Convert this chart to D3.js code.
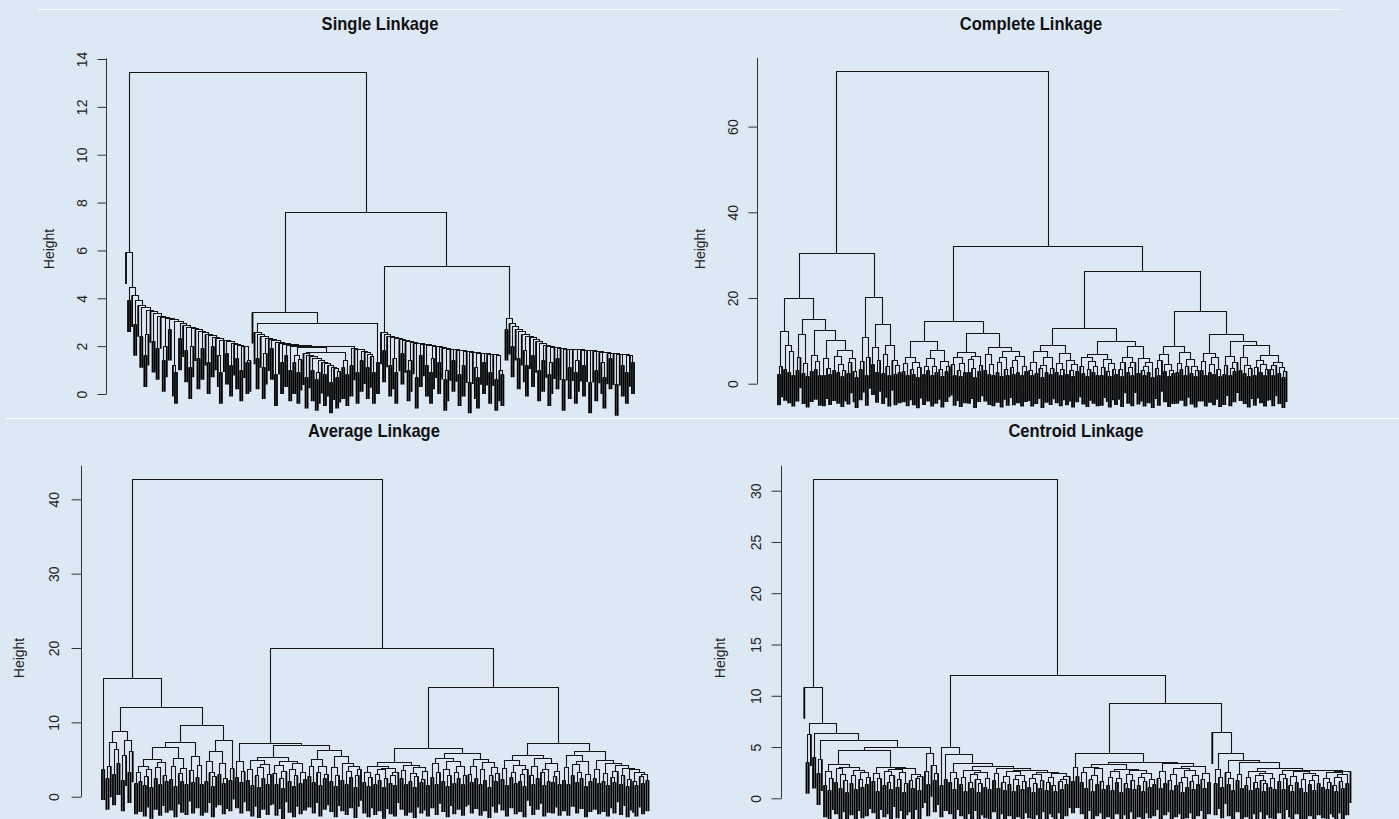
<!DOCTYPE html>
<html><head><meta charset="utf-8">
<script src="https://cdn.jsdelivr.net/npm/d3@7"></script>
<style>
html,body{margin:0;padding:0;background:#dde8f5;}
svg{display:block;}
text{font-family:"Liberation Sans",Arial,Helvetica,sans-serif;}
</style></head><body>
<svg id="chart" width="1399" height="819"></svg>
<script>
// ---------------- DATA ----------------
const titles = ["Single Linkage", "Complete Linkage", "Average Linkage", "Centroid Linkage"];
const yLabel = "Height";
const singleTicks = [0, 2, 4, 6, 8, 10, 12, 14];
const completeTicks = [0, 20, 40, 60];
const averageTicks = [0, 10, 20, 30, 40];
const centroidTicks = [0, 5, 10, 15, 20, 25, 30];

// Merge height between each pair of neighbouring leaves (in leaf order).
const singleGaps = [
  5.9, 3.9, 4.45,
  4.1, 2.9, 3.9, 3.7, 2.4, 3.6, 1.6, 2.5, 3.5, 3.45,
  2.2, 3.35, 1.9, 3.25, 3.2, 1.4, 2.0, 3.15, 2.7, 3.1,
  1.2, 0.9, 3.02, 2.3, 2.95, 2.85, 1.8, 2.8, 1.1, 2.0,
  2.72, 2.68, 1.5, 2.62, 1.9, 2.55, 2.5, 1.3, 2.45, 2.0,
  2.38, 2.3, 1.6, 0.9, 2.25, 2.22, 1.7, 2.18, 1.2, 2.12,
  2.08, 1.5, 2.03, 1.0, 1.99, 1.97, 1.3, 1.4,
  13.45, 3.42,
  2.55, 1.5, 2.48, 2.4, 1.1, 1.7, 2.33, 2.27, 1.9, 2.22,
  0.8, 2.17, 2.12, 1.3, 2.08, 1.6, 2.04, 1.0, 2.0,
  1.3, 1.6, 0.9, 1.45, 1.93,
  1.68, 0.7, 1.62, 1.55, 1.0, 1.48, 0.6, 0.9, 1.4, 1.33, 0.8, 1.27, 1.2, 0.5, 1.12, 1.05, 0.7, 0.95,
  1.75, 1.1, 1.4, 0.8, 1.97,
  1.2, 1.9, 1.88, 0.9, 1.84, 1.4, 1.78, 1.72, 1.1, 1.65, 1.57, 0.9,
  2.94, 1.3, 7.59,
  2.55, 1.8, 2.48, 2.42, 1.2, 2.36, 1.5, 0.9, 2.3, 2.26,
  1.7, 2.22, 2.19, 1.0, 1.4, 2.16, 2.13, 0.7, 2.1, 1.6,
  2.08, 2.05, 1.2, 2.02, 0.9, 1.5, 2.0, 1.97, 1.3, 1.94,
  1.91, 0.6, 1.0, 1.88, 1.86, 1.4, 1.84, 1.82, 0.8, 1.8,
  1.2, 1.78, 1.76, 0.5, 1.74, 1.72, 1.1, 0.7, 1.71, 1.69,
  1.3, 1.68, 1.66, 0.9, 1.65, 1.64, 0.6, 1.62, 1.0, 0.8,
  5.31,
  2.7, 3.16, 2.96, 2.0, 2.81, 2.7, 1.5, 2.6, 2.5, 1.8,
  1.2, 2.42, 2.35, 1.6, 2.27, 2.19, 1.0, 2.1, 1.4, 2.04,
  1.98, 0.8, 1.3, 1.95, 1.93, 1.5, 1.91, 1.89, 0.6, 1.88,
  1.87, 1.1, 1.86, 1.85, 0.9, 1.4, 1.84, 1.83, 1.2, 1.82,
  1.81, 0.5, 1.8, 1.79, 1.0, 1.77, 1.75, 1.3, 0.7, 1.73,
  1.71, 1.5, 1.7, 1.68, 0.4, 1.67, 1.66, 1.2, 1.64, 0.9,
  1.62, 1.61, 1.3
];

const completeGaps = [
  2.1, 4.0, 12.1, 3.2, 9.0, 2.6, 7.4, 1.8, 19.9,
  3.0, 6.1, 11.4, 2.4, 4.8, 1.6, 15.0,
  2.9, 6.6, 3.4, 5.2, 2.0, 12.4,
  1.9, 5.9, 3.6, 2.2, 10.0,
  3.1, 6.4, 2.5, 4.4, 1.7, 3.0, 7.7,
  2.3, 4.9, 5.8, 2.8, 1.5, 30.5,
  3.3, 5.1, 10.8, 2.0, 6.0, 20.2,
  4.5, 8.4, 2.7, 5.3, 13.9,
  2.4, 6.8, 3.9, 1.8, 9.0,
  5.5, 2.1, 4.2, 2.6, 72.9,
  2.8, 4.6, 1.9, 6.2, 3.3, 2.1, 5.0, 1.4, 3.7, 9.8,
  2.2, 4.1, 3.0, 5.8, 1.8, 3.9, 2.5, 7.7,
  3.4, 1.6, 5.2, 2.9, 4.0, 14.5,
  4.4, 2.0, 6.0, 3.1, 1.7, 4.8, 2.6, 7.3,
  2.5, 5.6, 3.6, 1.5, 6.4, 2.9, 4.2, 11.8,
  3.0, 6.9, 2.2, 4.5, 1.9, 8.5,
  2.7, 4.9, 1.6, 6.1, 3.4, 2.0, 7.5,
  3.8, 2.1, 5.4, 2.6, 6.3, 1.8, 4.0, 2.9, 32.1,
  3.1, 1.8, 5.0, 2.4, 7.4, 3.6, 1.5, 4.3, 2.7, 6.0, 2.2, 3.5, 9.0,
  2.6, 4.7, 1.9, 3.3, 7.0, 2.1, 5.5, 3.0, 1.6, 4.4, 2.8, 12.9,
  4.0, 2.3, 6.0, 1.7, 3.2, 5.1, 2.5, 3.9, 1.9, 6.9,
  2.0, 3.8, 5.6, 2.9, 1.6, 4.6, 3.3, 2.2, 9.8,
  3.4, 1.7, 4.9, 6.2, 2.5, 3.7, 1.9, 5.0, 8.6,
  2.3, 5.8, 3.0, 1.8, 4.1, 2.6, 4.9, 1.5, 26.2,
  3.6, 2.0, 5.3, 6.7, 2.8, 4.4, 1.7, 3.1, 2.4, 8.7,
  2.5, 4.8, 3.2, 7.2, 1.9, 3.9, 5.7, 2.3, 4.1, 1.6, 3.0, 16.8,
  3.0, 5.2, 1.8, 7.0, 2.7, 4.5, 2.1, 6.1, 3.4, 1.7, 11.4,
  2.2, 4.3, 6.4, 1.9, 3.5, 2.8, 5.0, 9.8,
  3.1, 6.0, 2.4, 4.2, 1.6, 3.6, 9.0,
  2.0, 3.7, 5.4, 2.6, 4.5, 1.8, 3.2, 6.6,
  3.3, 1.9, 4.2, 5.0, 2.4, 3.8, 1.5, 2.9
];

const averageGaps = [
  3.7, 15.9,
  2.4, 4.1, 7.3, 3.0, 6.3, 4.4, 8.75, 2.2, 5.6, 7.6, 3.3, 6.1, 12.0,
  1.8, 3.2, 2.1, 4.1, 1.5, 2.7, 3.6, 1.2, 5.0, 2.4, 3.9, 1.6, 4.6, 2.9, 2.0, 6.65,
  2.3, 4.0, 1.4, 5.2, 3.1, 2.0, 3.8, 1.7, 7.3,
  3.5, 1.9, 5.4, 2.6, 4.2, 1.6, 9.55,
  2.0, 4.8, 3.3, 1.4, 2.7, 6.05,
  3.0, 4.5, 1.8, 2.5, 7.6,
  2.2, 3.8, 42.7,
  2.6, 4.7, 1.9, 3.4, 7.2,
  2.2, 3.6, 1.5, 4.9, 2.8, 1.3, 3.9, 2.4, 4.3, 1.7, 3.0, 5.3,
  3.1, 1.6, 4.2, 2.5, 1.1, 3.4, 4.8, 2.0, 3.7, 1.4, 2.8, 4.4, 1.8, 3.2, 2.3, 6.9,
  2.7, 4.0, 1.9, 5.0, 3.3, 1.5, 4.1, 2.4, 3.0, 6.2,
  2.1, 3.9, 1.4, 2.9, 5.4, 2.2, 4.5, 1.7, 3.4, 2.6, 4.0, 1.3, 2.8, 3.6, 20.0,
  1.9, 3.2, 1.4, 2.6, 4.0, 1.7, 3.0, 2.2, 3.6, 1.2, 2.5, 3.8, 1.8, 2.9, 1.5, 3.3, 4.6,
  2.4, 3.5, 1.6, 4.2, 2.0, 3.1, 1.3, 2.7, 3.9, 1.9, 2.3, 3.4, 1.5, 6.5,
  2.6, 4.4, 1.7, 3.2, 5.2, 2.1, 3.7, 1.4, 2.9, 4.7, 1.8, 3.3, 2.4, 4.0, 1.6, 2.8, 5.75,
  3.0, 1.9, 4.1, 2.5, 5.0, 1.6, 3.6, 2.2, 4.6, 1.3, 2.8, 3.9, 2.0, 3.1, 14.7,
  2.3, 3.8, 1.5, 4.9, 2.6, 3.3, 1.8, 4.2, 2.1, 3.0, 1.4, 3.6, 5.5,
  2.9, 1.7, 4.0, 2.4, 5.1, 3.2, 1.5, 3.7, 2.0, 4.5, 1.9, 2.7, 3.4, 1.6, 7.2,
  2.2, 3.9, 1.6, 5.6, 2.8, 4.3, 1.9, 3.2, 2.5, 4.8, 1.4, 3.0, 2.1, 6.05,
  2.4, 3.6, 1.8, 4.9, 2.1, 3.1, 1.5, 4.5, 2.6, 1.9, 3.4, 4.2, 1.7, 2.9, 3.8, 1.4, 2.3, 3.6, 2.0, 1.5, 3.3, 2.7, 1.8, 3.0, 2.2
];

const centroidGaps = [
  10.8, 3.5, 6.2, 7.3, 4.0, 6.3, 2.4, 3.75, 5.6,
  1.2, 2.6, 0.8, 1.9, 3.3, 1.5, 2.9, 1.0, 2.3, 1.7, 0.6, 3.0, 1.4, 2.2, 0.9, 2.7, 1.8, 1.1, 2.5, 1.3, 2.0, 4.65,
  1.6, 2.4, 0.7, 1.9, 3.0, 1.2, 2.6, 1.5, 0.9, 2.2, 2.8, 1.1, 1.8, 2.5, 0.6, 1.4, 2.9, 1.7, 1.0, 2.3, 1.9, 0.8, 2.1, 5.0,
  2.6, 1.3, 4.4, 3.2, 1.7, 2.4, 31.1,
  1.2, 5.0, 1.8, 4.3, 1.5, 2.5, 0.9, 1.9, 3.35,
  1.3, 2.0, 0.7, 2.7, 1.5, 1.0, 2.3, 1.8, 0.6, 1.4, 2.5, 1.1, 1.9, 0.9, 3.15,
  1.7, 2.4, 1.0, 2.9, 1.5, 0.8, 2.1, 1.3, 2.6, 0.7, 1.8, 1.2, 2.2, 0.9, 1.6, 2.7, 1.1, 1.9, 0.6, 1.4,
  2.3, 1.0, 1.7, 2.5, 0.8, 1.5, 2.0, 1.2, 0.7, 2.4, 1.6, 0.9, 1.8, 1.3, 2.1, 12.0,
  1.6, 3.0, 2.1, 4.4,
  1.5, 2.5, 1.0, 3.0, 1.8, 0.7, 2.2, 1.3, 2.9, 1.6, 0.9, 3.3, 1.2, 2.0, 0.8, 2.6, 1.5, 1.9, 0.6, 2.8,
  1.4, 1.0, 2.3, 1.7, 0.9, 2.7, 1.2, 2.0, 0.7, 1.6, 2.4, 1.1, 1.8, 1.3, 3.5,
  1.9, 1.0, 2.6, 1.4, 3.35, 1.7, 0.8, 2.3, 1.2, 2.9, 1.5, 0.6, 2.0, 1.1, 2.7, 1.6, 0.9, 2.2, 1.3, 3.1,
  1.8, 1.0, 2.4, 1.5, 9.2,
  6.4, 1.4, 2.8, 2.0, 1.1, 4.4, 2.5, 1.3, 1.9, 0.8, 3.7, 1.7, 2.3, 1.0, 3.5,
  1.2, 2.0, 0.8, 2.6, 1.5, 1.0, 2.2, 1.7, 0.7, 1.4, 2.4, 1.1, 1.9, 0.9, 2.9,
  1.6, 2.3, 0.9, 1.9, 2.75, 1.2, 0.7, 2.1, 1.5, 2.6, 1.0, 1.8, 0.6, 2.4, 1.3, 1.7, 0.8, 2.2, 1.4, 2.7,
  1.1, 1.9, 0.9, 1.5, 2.5, 1.2, 0.7, 2.0, 1.6, 1.0, 2.3, 1.4, 2.6
];

// ---------------- LAYOUT ----------------
const layouts = [
  {gaps: singleGaps, ticks: singleTicks, title: titles[0],
   leafX: [126, 634], yPix: [394, 59], axisX: 106.7, tickLen: 9, labelOff: 25,
   hx: 49, hy: 249, tx: 380, ty: 29.5},
  {gaps: completeGaps, ticks: completeTicks, title: titles[1],
   leafX: [778, 1286.5], yPix: [383.7, 126.6], axisX: 757.2, tickLen: 9, labelOff: 24,
   hx: 700, hy: 249, tx: 1031, ty: 29.5},
  {gaps: averageGaps, ticks: averageTicks, title: titles[2],
   leafX: [102, 648.5], yPix: [796.7, 499.3], axisX: 81.2, tickLen: 10, labelOff: 27.5,
   hx: 19, hy: 658, tx: 374, ty: 436.5},
  {gaps: centroidGaps, ticks: centroidTicks, title: titles[3],
   leafX: [804.3, 1350.5], yPix: [798.3, 490.7], axisX: 781.6, tickLen: 10, labelOff: 26,
   hx: 720, hy: 658, tx: 1076, ty: 436.5}
];

const svg = d3.select("#chart");
svg.append("rect").attr("width", 1399).attr("height", 819).attr("fill", "#dde8f5");
svg.append("line").attr("x1", 38).attr("x2", 1341).attr("y1", 9.5).attr("y2", 9.5)
  .attr("stroke", "#ffffff").attr("stroke-width", 1);
svg.append("line").attr("x1", 6).attr("x2", 1399).attr("y1", 418.5).attr("y2", 418.5)
  .attr("stroke", "#ffffff").attr("stroke-width", 1);

const snap = v => Math.round(v - 0.5) + 0.5;

function buildTree(gaps, xs) {
  const n = gaps.length + 1;
  function rec(lo, hi) {
    if (lo === hi) return {leaf: true, i: lo, x: xs(lo)};
    let m = lo;
    for (let k = lo + 1; k < hi; k++) if (gaps[k] > gaps[m]) m = k;
    const l = rec(lo, m), r = rec(m + 1, hi);
    return {leaf: false, h: gaps[m], left: l, right: r, x: (l.x + r.x) / 2};
  }
  return rec(0, n - 1);
}

layouts.forEach(L => {
  const n = L.gaps.length + 1;
  const maxH = d3.max(L.gaps), minH = d3.min(L.gaps);
  const hang = 0.1 * (maxH - minH);
  const topT = L.ticks[L.ticks.length - 1];
  const x = d3.scaleLinear().domain([0, n - 1]).range(L.leafX);
  const y = d3.scaleLinear().domain([0, topT]).range(L.yPix);
  const yTop = maxH + 0.04 * (maxH - (minH - hang));

  const root = buildTree(L.gaps, x);
  const pTree = d3.path(), pLeaf = d3.path();
  (function draw(node) {
    const yh = snap(y(node.h));
    const xl = node.left.leaf ? node.left.x : snap(node.left.x);
    const xr = node.right.leaf ? node.right.x : snap(node.right.x);
    pTree.moveTo(xl, yh); pTree.lineTo(xr, yh);
    [node.left, node.right].forEach(c => {
      if (c.leaf) {
        pLeaf.moveTo(c.x, yh); pLeaf.lineTo(c.x, y(node.h - hang));
      } else {
        const cx = snap(c.x);
        pTree.moveTo(cx, yh); pTree.lineTo(cx, snap(y(c.h)));
        draw(c);
      }
    });
  })(root);

  const g = svg.append("g");
  g.append("path").attr("d", pLeaf.toString()).attr("fill", "none")
    .attr("stroke", "#000").attr("stroke-width", 1.8);
  g.append("path").attr("d", pTree.toString()).attr("fill", "none")
    .attr("stroke", "#141414").attr("stroke-width", 1.1).attr("stroke-linecap", "square");

  // axis
  const ax = svg.append("g").attr("transform", `translate(${snap(L.axisX)},0)`);
  const axis = d3.axisLeft(y).tickValues(L.ticks).tickSize(L.tickLen).tickFormat(d3.format("d"));
  ax.call(axis);
  ax.select(".domain").remove();
  ax.append("line").attr("x1", 0).attr("x2", 0)
    .attr("y1", y(0)).attr("y2", y(yTop)).attr("stroke", "#333");
  ax.selectAll(".tick line").attr("stroke", "#333");
  ax.selectAll(".tick text")
    .attr("x", 0).attr("y", -L.labelOff + (L.axisX - snap(L.axisX)))
    .attr("dy", "0.35em")
    .attr("transform", "rotate(-90)")
    .attr("text-anchor", "middle")
    .attr("font-family", "Liberation Sans, Arial, sans-serif")
    .attr("font-size", 14)
    .attr("fill", "#222");

  svg.append("text")
    .attr("transform", `translate(${L.hx},${L.hy}) rotate(-90)`)
    .attr("text-anchor", "middle").attr("dy", "0.35em")
    .attr("font-size", 14).attr("fill", "#222").text(yLabel);

  svg.append("text")
    .attr("transform", `translate(${L.tx},${L.ty}) scale(0.92,1)`)
    .attr("text-anchor", "middle")
    .attr("font-size", 18).attr("font-weight", "bold").attr("fill", "#111")
    .text(L.title);
});
</script>
</body></html>
